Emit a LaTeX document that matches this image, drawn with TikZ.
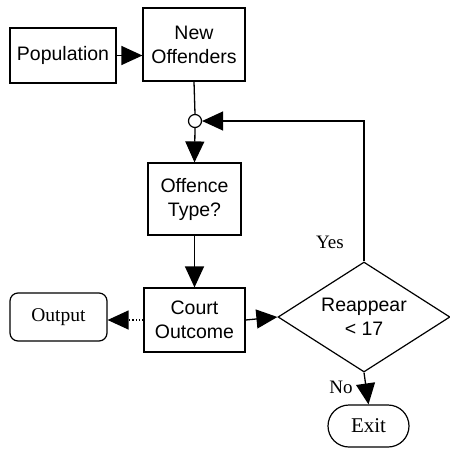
\documentclass[tikz,border=0pt]{standalone}
\usepackage{fontspec}
\setmainfont{Liberation Serif}
\setsansfont{Liberation Sans}
\usetikzlibrary{arrows.meta,shapes.geometric,shapes.misc}
\tikzset{
  every node/.style={inner sep=0pt},
  box/.style={draw, line width=1.2pt, rectangle, align=center, font=\sffamily\fontsize{19.5}{24}\selectfont},
  rbox/.style={draw, line width=1.2pt, rounded corners=8pt, align=center, font=\fontsize{19.5}{23}\selectfont},
  lbl/.style={font=\fontsize{19}{22}\selectfont},
  conn/.style={line width=1.3pt, -{Triangle[length=21pt,width=19pt]}},
  plain/.style={line width=1.3pt},
}
\begin{document}
\begin{tikzpicture}[x=1pt,y=-1pt]
\useasboundingbox (0,0) rectangle (450,448);
\node[box, minimum width=106pt, minimum height=55pt] (pop) at (63,55.5) {Population};
\node[box, minimum width=102pt, minimum height=73pt] (new) at (194,44.5) {New\\Offenders};
\node[draw, circle, line width=1.2pt, minimum size=13pt] (circ) at (195,121) {};
\node[box, minimum width=93pt, minimum height=72pt] (off) at (194.5,199) {Offence\\Type?};
\node[box, minimum width=101pt, minimum height=64pt] (court) at (194.5,320) {Court\\Outcome};
\node[rbox, minimum width=97pt, minimum height=48pt] (out) at (58.5,317) {Output};
\node[draw, diamond, line width=1.2pt, minimum width=172pt, minimum height=110pt] (dec) at (364,317) {};
\node[align=center, font=\sffamily\fontsize{19.5}{24}\selectfont] (dectext) at (dec.center) {Reappear\\< 17};
\node[draw, rounded rectangle, line width=1.2pt, minimum width=81pt, minimum height=42pt, font=\fontsize{21}{23}\selectfont] (exit) at (368.5,426) {Exit};
\node[lbl] (yes) at (330,242) {Yes};
\node[lbl] (no) at (341,387) {No};
\draw[conn] (pop.east) -- (pop.east -| new.west);
\draw[plain] (new.south) -- (circ.north);
\draw[conn] (dec.north) |- (circ.east);
\draw[conn] (circ.south) -- (off.north);
\draw[conn] (off.south) -- (court.north);
\draw[conn, dotted] (court.west) -- (court.west -| out.east);
\draw[conn] (court.east) -- (dec.west);
\draw[conn] (dec.south) -- (exit.north);
\end{tikzpicture}
\end{document}
